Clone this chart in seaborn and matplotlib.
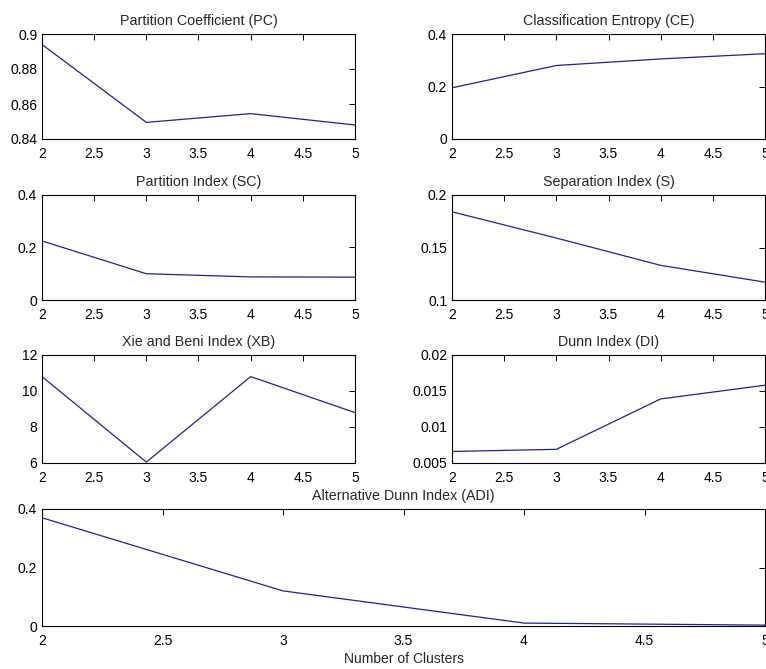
import matplotlib
matplotlib.use("Agg")
import matplotlib.pyplot as plt
import seaborn as sns
import pandas as pd

clusters = [2, 3, 4, 5]
pc = [0.894, 0.8495, 0.8545, 0.848]
ce = [0.195, 0.280, 0.305, 0.325]
sc = [0.225, 0.100, 0.088, 0.087]
s_idx = [0.184, 0.159, 0.133, 0.117]
xb = [10.8, 6.05, 10.8, 8.8]
di = [0.0066, 0.0069, 0.0139, 0.0158]
adi = [0.370, 0.120, 0.010, 0.003]

titles = ["Partition Coefficient (PC)", "Classification Entropy (CE)",
          "Partition Index (SC)", "Separation Index (S)",
          "Xie and Beni Index (XB)", "Dunn Index (DI)",
          "Alternative Dunn Index (ADI)"]
ylims = [(0.84, 0.9), (0, 0.4), (0, 0.4), (0.1, 0.2), (6, 12), (0.005, 0.02), (0, 0.4)]
yticks = [[0.84, 0.86, 0.88, 0.9], [0, 0.2, 0.4], [0, 0.2, 0.4], [0.1, 0.15, 0.2],
          [6, 8, 10, 12], [0.005, 0.01, 0.015, 0.02], [0, 0.2, 0.4]]
yticklabels = [["0.84", "0.86", "0.88", "0.9"], ["0", "0.2", "0.4"], ["0", "0.2", "0.4"],
               ["0.1", "0.15", "0.2"], ["6", "8", "10", "12"],
               ["0.005", "0.01", "0.015", "0.02"], ["0", "0.2", "0.4"]]
xticks = [2, 2.5, 3, 3.5, 4, 4.5, 5]
xticklabels = ["2", "2.5", "3", "3.5", "4", "4.5", "5"]
series = [pc, ce, sc, s_idx, xb, di, adi]

sns.set_theme(style="white")
plt.rcParams['font.family'] = ['Liberation Sans', 'DejaVu Sans']

W, H = 766, 669
fig = plt.figure(figsize=(W / 100, H / 100), dpi=100)

# pixel boxes (left, top, right, bottom)
boxes = [(42, 34, 355, 139), (452, 34, 765, 139),
         (42, 195, 355, 300), (452, 195, 765, 300),
         (42, 355, 355, 463), (452, 355, 765, 463),
         (42, 509, 765, 626)]

line_color = "#22228c"
for i, (l, t, r, b) in enumerate(boxes):
    ax = fig.add_axes([l / W, 1 - b / H, (r - l) / W, (b - t) / H])
    df = pd.DataFrame({"k": clusters, "v": series[i]})
    sns.lineplot(data=df, x="k", y="v", ax=ax, color=line_color, linewidth=0.9)
    ax.set_xlim(2, 5)
    ax.set_ylim(*ylims[i])
    ax.set_xticks(xticks)
    ax.set_xticklabels(xticklabels)
    ax.set_yticks(yticks[i])
    ax.set_yticklabels(yticklabels[i])
    ax.set_title(titles[i], fontsize=10.3, pad=6.5)
    ax.set_ylabel("")
    ax.set_xlabel("Number of Clusters" if i == 6 else "", fontsize=10, labelpad=3)
    ax.tick_params(axis="x", pad=5.5)
    ax.tick_params(axis="y", pad=3.5)
    ax.tick_params(direction="in", length=4, width=0.7, top=True, right=True,
                   labelsize=10, colors="black")
    for sp in ax.spines.values():
        sp.set_visible(True)
        sp.set_color("black")
        sp.set_linewidth(0.8)

fig.savefig("out.png", dpi=100, facecolor="white")
